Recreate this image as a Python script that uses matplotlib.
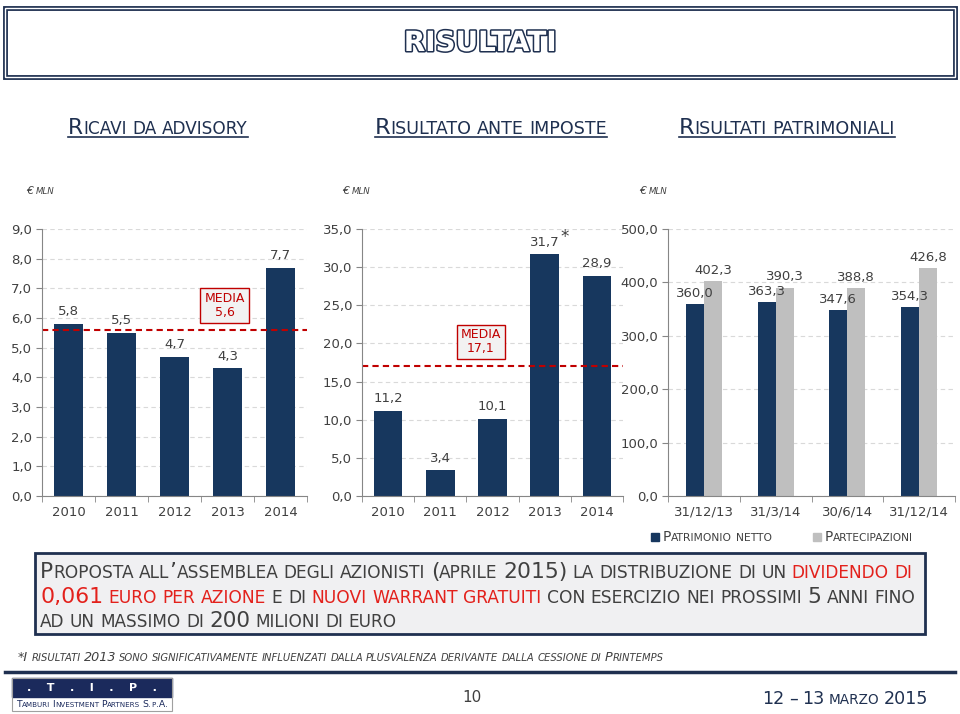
import matplotlib
matplotlib.use('Agg')
import matplotlib.pyplot as plt
import matplotlib.patches as patches
import matplotlib.patheffects as pe
from matplotlib.lines import Line2D
from matplotlib.ticker import FuncFormatter
import numpy as np

plt.rcParams['font.family'] = ['DejaVu Sans']

# data
years = ['2010', '2011', '2012', '2013', '2014']
ricavi = [5.8, 5.5, 4.7, 4.3, 7.7]
ricavi_media = 5.6
ante_imposte = [11.2, 3.4, 10.1, 31.7, 28.9]
ante_media = 17.1
date_labels = ['31/12/13', '31/3/14', '30/6/14', '31/12/14']
patrimonio = [360.0, 363.3, 347.6, 354.3]
partecipazioni = [402.3, 390.3, 388.8, 426.8]

NAVY = '#17375E'
GREY_BAR = '#BFBFBF'
TXT = '#404040'
RED = '#C00000'
RED2 = '#E3211C'
DARK = '#1F3050'
AXC = '#868686'

W, H = 960, 714
fig = plt.figure(figsize=(9.6, 7.14), dpi=100)
renderer = fig.canvas.get_renderer()


def fx(x):
    return x / W


def fy(y):
    return 1 - y / H


def fmt(v):
    return f'{v:.1f}'.replace('.', ',')


def textw(s, fs, wt, style):
    t = fig.text(0, 0, s, fontsize=fs, weight=wt, style=style)
    w = t.get_window_extent(renderer).width
    t.remove()
    return w


def sc_text(x, y, segs, size, width=None, ha='left', style='normal', ratio=0.78):
    # small caps: lower case letters drawn as smaller capitals, y is the baseline
    pieces = []
    for txt, col, wt in segs:
        for ch in txt:
            kind = 'sp' if ch == ' ' else ('lo' if ch.islower() else 'up')
            p = pieces[-1] if pieces else None
            if p and kind != 'sp' and p[1] == kind and p[2] == col and p[3] == wt:
                p[0] += ch.upper()
            else:
                pieces.append([ch.upper(), kind, col, wt])

    def measure(scale):
        ws = []
        for s, kind, col, wt in pieces:
            fs = size * scale * (1 if kind == 'up' else ratio)
            if kind == 'sp':
                ws.append(textw('i i', fs, wt, style) - textw('ii', fs, wt, style))
            else:
                ws.append(textw(s, fs, wt, style))
        return ws

    scale = 1.0
    ws = measure(scale)
    if width:
        scale = width / sum(ws)
        ws = measure(scale)
    total = sum(ws)
    x0 = x - {'left': 0, 'center': total / 2, 'right': total}[ha]
    start = x0
    for (s, kind, col, wt), w in zip(pieces, ws):
        if kind != 'sp':
            fs = size * scale * (1 if kind == 'up' else ratio)
            fig.text(fx(x0), fy(y), s, fontsize=fs, color=col, weight=wt,
                     style=style, va='baseline', ha='left')
        x0 += w
    return start, total


def rect(l, t, r, b, **kw):
    fig.add_artist(patches.Rectangle((fx(l), fy(b)), (r - l) / W, (b - t) / H,
                                     transform=fig.transFigure, **kw))


def bar_axes(l, t, r, b):
    ax = fig.add_axes([fx(l), fy(b), (r - l) / W, (b - t) / H])
    ax.spines[['top', 'right']].set_visible(False)
    for s in ['left', 'bottom']:
        ax.spines[s].set_color(AXC)
    ax.tick_params(axis='y', colors=AXC, labelcolor=TXT, labelsize=9.5, length=4, pad=3)
    ax.tick_params(axis='x', which='major', length=0, labelcolor=TXT, labelsize=9.5, pad=7)
    ax.tick_params(axis='x', which='minor', length=4, colors=AXC)
    ax.yaxis.grid(True, ls=(0, (4, 3)), color='#D9D9D9', lw=0.8)
    ax.set_axisbelow(True)
    ax.yaxis.set_major_formatter(FuncFormatter(lambda v, p: fmt(v)))
    return ax


# title box
rect(5, 8, 955, 77, fill=False, ec=DARK, lw=3.5)
rect(5, 8, 955, 77, fill=False, ec='white', lw=1)
fig.text(0.5, fy(43), 'RISULTATI', ha='center', va='center', fontsize=20,
         family=['Liberation Sans Narrow', 'DejaVu Sans'], weight='bold', color='white',
         path_effects=[pe.withStroke(linewidth=2.2, foreground=DARK)])

# section titles
for cx, w, s in [(158, 180, 'Ricavi da advisory'),
                 (491, 232, 'Risultato ante imposte'),
                 (787, 215, 'Risultati patrimoniali')]:
    x0, tot = sc_text(cx, 134, [(s, DARK, 'normal')], 13, width=w, ha='center')
    fig.add_artist(Line2D([fx(x0), fx(x0 + tot)], [fy(137), fy(137)], color=DARK, lw=1.2,
                          transform=fig.transFigure))

for x in [26, 342, 639]:
    sc_text(x, 194, [('€ mln', TXT, 'normal')], 8, style='italic')

# chart 1: ricavi da advisory
ax1 = bar_axes(42, 229, 307, 496)
x = np.arange(len(years))
ax1.bar(x, ricavi, width=0.55, color=NAVY)
ax1.set_xlim(-0.5, len(years) - 0.5)
ax1.set_ylim(0, 9)
ax1.set_yticks(np.arange(0, 9.1, 1))
ax1.set_xticks(x, years)
ax1.set_xticks(np.arange(-0.5, len(years)), minor=True)
for i, v in enumerate(ricavi):
    ax1.annotate(fmt(v), (i, v), xytext=(0, 4), textcoords='offset points',
                 ha='center', va='bottom', fontsize=9.5, color=TXT)
ax1.axhline(ricavi_media, color=RED, ls=(0, (3, 2)), lw=1.5)
ax1.text(2.95, 6.42, 'MEDIA\n' + fmt(ricavi_media), ha='center', va='center',
         color=RED, fontsize=9, multialignment='center', linespacing=1.1,
         bbox=dict(boxstyle='square,pad=0.35', fc='#F2F2F2', ec=RED, lw=1))

# chart 2: risultato ante imposte
ax2 = bar_axes(362, 229, 623, 496)
ax2.bar(x, ante_imposte, width=0.55, color=NAVY)
ax2.set_xlim(-0.5, len(years) - 0.5)
ax2.set_ylim(0, 35)
ax2.set_yticks(np.arange(0, 35.1, 5))
ax2.set_xticks(x, years)
ax2.set_xticks(np.arange(-0.5, len(years)), minor=True)
for i, v in enumerate(ante_imposte):
    ax2.annotate(fmt(v), (i, v), xytext=(0, 4), textcoords='offset points',
                 ha='center', va='bottom', fontsize=9.5, color=TXT)
ax2.annotate('*', (3, ante_imposte[3]), xytext=(14, 6), textcoords='offset points',
             ha='center', va='bottom', fontsize=12, color=TXT)
ax2.axhline(ante_media, color=RED, ls=(0, (3, 2)), lw=1.5)
ax2.text(1.78, 20.2, 'MEDIA\n' + fmt(ante_media), ha='center', va='center',
         color=RED, fontsize=9, multialignment='center', linespacing=1.1,
         bbox=dict(boxstyle='square,pad=0.3', fc='#F2F2F2', ec=RED, lw=1))

# chart 3: risultati patrimoniali
ax3 = bar_axes(668, 229, 955, 496)
xd = np.arange(len(date_labels))
bw = 0.25
b1 = ax3.bar(xd - bw / 2, patrimonio, width=bw, color=NAVY)
b2 = ax3.bar(xd + bw / 2, partecipazioni, width=bw, color=GREY_BAR)
ax3.set_xlim(-0.5, len(date_labels) - 0.5)
ax3.set_ylim(0, 500)
ax3.set_yticks(np.arange(0, 501, 100))
ax3.set_xticks(xd, date_labels)
ax3.set_xticks(np.arange(-0.5, len(date_labels)), minor=True)
for bars, vals in [(b1, patrimonio), (b2, partecipazioni)]:
    for bar, v in zip(bars, vals):
        ax3.annotate(fmt(v), (bar.get_x() + bar.get_width() / 2, v), xytext=(0, 3),
                     textcoords='offset points', ha='center', va='bottom',
                     fontsize=9.5, color=TXT)

# legend of chart 3
rect(651, 533, 659, 541, color=NAVY)
sc_text(663, 541, [('Patrimonio netto', TXT, 'normal')], 9, width=109)
rect(813, 533, 821, 541, color=GREY_BAR)
sc_text(825, 541, [('Partecipazioni', TXT, 'normal')], 9, width=89)

# proposal box
rect(35, 553, 925, 634, fc='#F0F0F2', ec=DARK, lw=2)
sc_text(40, 578, [('Proposta all’assemblea degli azionisti (aprile 2015) la distribuzione di un ', TXT, 'normal'),
                  ('dividendo di', RED2, 'normal')], 14, width=875)
sc_text(40, 603, [('0,061 euro per azione', RED2, 'normal'), (' e di ', TXT, 'normal'),
                  ('nuovi warrant gratuiti', RED2, 'normal'),
                  (' con esercizio nei prossimi 5 anni fino', TXT, 'normal')], 14, width=875)
sc_text(40, 627, [('ad un massimo di 200 milioni di euro', TXT, 'normal')], 14, width=355)

# footnote
sc_text(18, 661, [('*I risultati 2013 sono significativamente influenzati dalla plusvalenza '
                   'derivante dalla cessione di Printemps', TXT, 'normal')], 8, width=637,
        style='italic')

# footer
fig.add_artist(Line2D([fx(5), fx(955)], [fy(672), fy(672)], color=DARK, lw=2.5,
                      transform=fig.transFigure))
rect(12, 678, 172, 697, color='#1B2A5C')
rect(12, 678, 172, 711, fill=False, ec='#A0A0A0', lw=0.8)
fig.text(fx(92), fy(688), '.    T    .    I    .    P    .', ha='center', va='center',
         color='white', weight='bold', fontsize=8)
sc_text(92, 707, [('Tamburi Investment Partners S.p.A.', '#1B2A5C', 'normal')], 7,
        width=152, ha='center')
fig.text(fx(472), fy(697), '10', ha='center', va='center', fontsize=11, color=TXT)
sc_text(928, 704, [('12 – 13 marzo 2015', DARK, 'normal')], 13, width=165, ha='right')

fig.savefig('out.png', dpi=100)
